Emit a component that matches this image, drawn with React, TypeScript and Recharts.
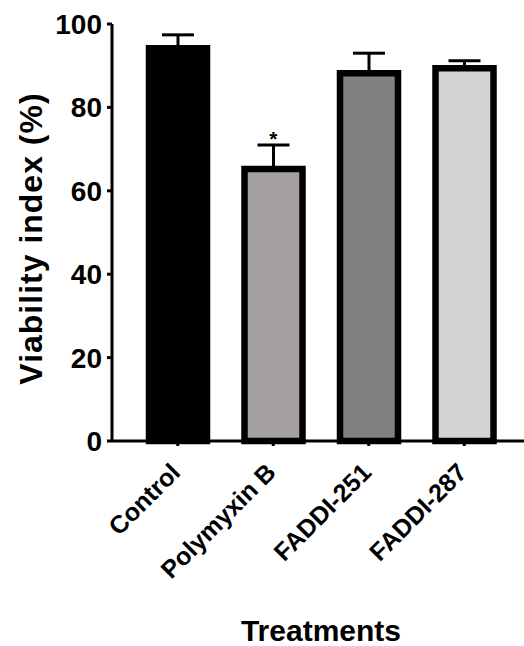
import React from 'react';
import { ComposedChart, Bar, Cell, ErrorBar, Scatter, XAxis, YAxis, Label } from 'recharts';

const categories = ['Control', 'Polymyxin B', 'FADDI-251', 'FADDI-287'];
const viability = [94.2, 65.2, 88.2, 89.4];
const sem = [3.2, 5.8, 4.8, 1.8];
const significance = ['', '*', '', ''];
const barColors = ['#000000', '#a49fa3', '#808080', '#d3d3d3'];
const yTicks = [0, 20, 40, 60, 80, 100];

const data = categories.map((name, i) => ({
  name,
  value: viability[i],
  err: [0, sem[i]],
  sig: significance[i],
  sigY: significance[i] ? viability[i] + sem[i] : null,
}));

const FONT = '"Liberation Sans", Arial, Helvetica, sans-serif';

const XTick = (props: any) => {
  const { x, y, payload } = props;
  return (
    <g transform={`translate(${x},${y})`}>
      <text
        x={4}
        y={28}
        textAnchor="end"
        transform="rotate(-45, 4, 28)"
        fontFamily={FONT}
        fontWeight="bold"
        fontSize={25}
        fill="#000"
      >
        {payload.value}
      </text>
    </g>
  );
};

const StarShape = (props: any) => {
  const { cx, cy, payload } = props;
  if (!payload || !payload.sig || cx == null || cy == null || isNaN(cy)) return <g />;
  return (
    <text x={cx} y={cy + 1} textAnchor="middle" fontFamily={FONT} fontWeight="bold" fontSize={21} fill="#000">
      {payload.sig}
    </text>
  );
};

export default function App() {
  return (
    <div style={{ position: 'absolute', left: 0, top: 0, width: 524, height: 646, background: '#fff' }}>
      <ComposedChart width={524} height={646} data={data} margin={{ top: 24, right: 0, left: 0, bottom: 0 }}>
        <XAxis
          dataKey="name"
          type="category"
          height={205}
          padding={{ left: 18, right: 12 }}
          axisLine={{ stroke: '#000', strokeWidth: 3 }}
          tickLine={{ stroke: '#000', strokeWidth: 3 }}
          tickSize={5}
          tickMargin={0}
          interval={0}
          tick={<XTick />}
        >
          <Label
            value="Treatments"
            position="insideBottom"
            offset={5}
            dx={3}
            style={{ fontFamily: FONT, fontWeight: 'bold', fontSize: 30, fill: '#000' }}
          />
        </XAxis>
        <YAxis
          type="number"
          domain={[0, 100]}
          ticks={yTicks}
          width={112}
          axisLine={{ stroke: '#000', strokeWidth: 3 }}
          tickLine={{ stroke: '#000', strokeWidth: 3 }}
          tickSize={5}
          tickMargin={5}
          tick={{ fontFamily: FONT, fontWeight: 'bold', fontSize: 28, fill: '#000' }}
        >
          <Label
            value="Viability index (%)"
            angle={-90}
            position="center"
            dx={-25}
            dy={6}
            style={{ fontFamily: FONT, fontWeight: 'bold', fontSize: 32, letterSpacing: 1, fill: '#000', textAnchor: 'middle' }}
          />
        </YAxis>
        <Bar dataKey="value" barSize={58} stroke="#000" strokeWidth={6.5} isAnimationActive={false}>
          {data.map((d, i) => (
            <Cell key={d.name} fill={barColors[i]} />
          ))}
          <ErrorBar dataKey="err" direction="y" width={16} stroke="#000" strokeWidth={3} isAnimationActive={false} />
        </Bar>
        <Scatter dataKey="sigY" shape={StarShape} isAnimationActive={false} />
      </ComposedChart>
    </div>
  );
}
